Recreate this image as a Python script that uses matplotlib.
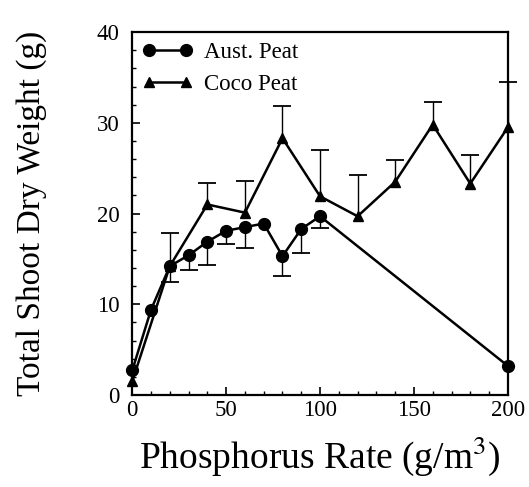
import numpy as np
import matplotlib
matplotlib.use('Agg')
import matplotlib.pyplot as plt
from matplotlib.ticker import MultipleLocator

# Aust. Peat (circles) - error bars drawn below the mean
aust_rate = [0, 10, 20, 30, 40, 50, 60, 70, 80, 90, 100, 200]
aust_weight = [2.7, 9.4, 14.2, 15.4, 16.9, 18.1, 18.5, 18.9, 15.3, 18.3, 19.7, 3.2]
aust_err = [0, 0, 1.7, 1.6, 2.6, 1.5, 2.3, 0, 2.2, 2.6, 1.3, 0]

# Coco Peat (triangles) - error bars drawn above the mean
coco_rate = [0, 20, 40, 60, 80, 100, 120, 140, 160, 180, 200]
coco_weight = [1.5, 14.2, 21.0, 20.1, 28.3, 21.9, 19.7, 23.5, 29.8, 23.3, 29.5]
coco_err = [0, 3.7, 2.4, 3.5, 3.6, 5.1, 4.5, 2.4, 2.5, 3.1, 5.0]

plt.rcParams['font.family'] = ['Liberation Serif', 'DejaVu Serif']
plt.rcParams['mathtext.fontset'] = 'stix'

fig = plt.figure(figsize=(5.29, 4.87), dpi=100)
ax = fig.add_axes([0.25, 0.189, 0.71, 0.745])


def one_sided_bars(x, y, err, sign):
    # vertical whisker from the mean to mean +/- err, with a cap at the far end only
    x = np.asarray(x, float)
    y = np.asarray(y, float)
    err = np.asarray(err, float)
    keep = err > 0
    ends = y[keep] + sign * err[keep]
    ax.vlines(x[keep], y[keep], ends, color='black', lw=1.0, zorder=1, clip_on=False)
    ax.plot(x[keep], ends, ls='none', marker='_', ms=13, mew=1.3, color='black',
            zorder=1, clip_on=False)


one_sided_bars(aust_rate, aust_weight, aust_err, -1)
one_sided_bars(coco_rate, coco_weight, coco_err, +1)

ax.plot(aust_rate, aust_weight, '-o', color='black', ms=8.5, lw=1.8,
        label='Aust. Peat', clip_on=False, zorder=3)
ax.plot(coco_rate, coco_weight, '-^', color='black', ms=7.5, lw=1.8,
        label='Coco Peat', clip_on=False, zorder=3)

ax.set_xlim(0, 200)
ax.set_ylim(0, 40)
ax.xaxis.set_major_locator(MultipleLocator(50))
ax.xaxis.set_minor_locator(MultipleLocator(10))
ax.yaxis.set_major_locator(MultipleLocator(10))
ax.yaxis.set_minor_locator(MultipleLocator(2))
ax.tick_params(which='both', direction='in', labelsize=16.5)
ax.tick_params(axis='y', pad=9)
ax.tick_params(which='major', length=6, width=1.2)
ax.tick_params(which='minor', length=3, width=1.0)
for s in ax.spines.values():
    s.set_linewidth(1.6)

ax.set_xlabel('Phosphorus Rate (g/m$^3$)', fontsize=27, labelpad=10)
ax.set_ylabel('Total Shoot Dry Weight (g)', fontsize=24, labelpad=36)

ax.legend(loc='upper left', numpoints=2, frameon=False, fontsize=16.5,
          handlelength=2.2, handletextpad=0.5, borderaxespad=0.05, labelspacing=0.45)

fig.savefig('out.png', dpi=100)
